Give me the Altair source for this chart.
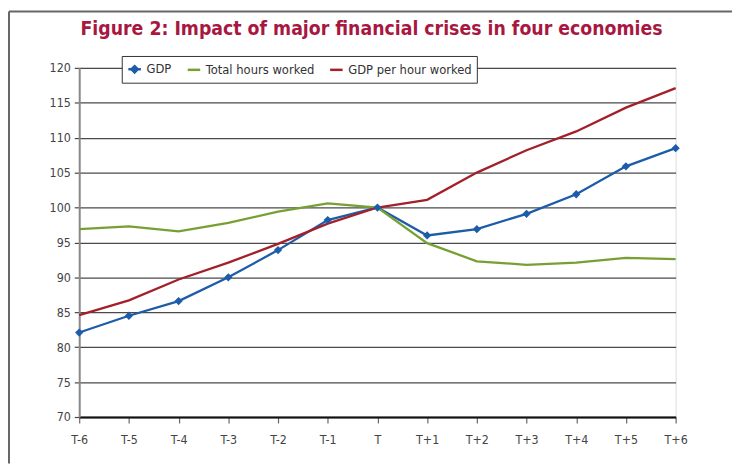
import altair as alt
import pandas as pd

periods = ["T-6", "T-5", "T-4", "T-3", "T-2", "T-1", "T", "T+1", "T+2", "T+3", "T+4", "T+5", "T+6"]
gdp = [82.1, 84.5, 86.6, 90.0, 93.9, 98.2, 100.0, 96.0, 96.9, 99.1, 101.9, 105.9, 108.5]
hours = [96.9, 97.3, 96.6, 97.8, 99.4, 100.6, 100.0, 94.9, 92.3, 91.8, 92.1, 92.8, 92.6]
gdp_per_hour = [84.6, 86.7, 89.7, 92.1, 94.8, 97.7, 100.0, 101.1, 105.0, 108.2, 110.9, 114.3, 117.1]
series = ["GDP", "Total hours worked", "GDP per hour worked"]
colors = ["#1c5ca8", "#76a132", "#a3202a"]
y_ticks = [70, 75, 80, 85, 90, 95, 100, 105, 110, 115, 120]

FONT = "DejaVu Sans Condensed, sans-serif"
GDP_SYMBOL = "M-1,0H1M0,-0.5L0.5,0L0,0.5L-0.5,0Z"

rows = []
for name, vals in zip(series, [gdp, hours, gdp_per_hour]):
    for p, v in zip(periods, vals):
        rows.append({"period": p, "value": v, "series": name})
df = pd.DataFrame(rows)

x_enc = alt.X("period:N", sort=periods, scale=alt.Scale(type="point", padding=0),
              axis=alt.Axis(title=None, labelAngle=0, domainColor="#111", domainWidth=2,
                            tickColor="#666", tickSize=6, tickWidth=1.2, labelPadding=11,
                            labelFontSize=12.5, labelFont=FONT, labelColor="#444", grid=False))
y_enc = alt.Y("value:Q", scale=alt.Scale(domain=[70, 120], nice=False, zero=False),
              axis=alt.Axis(title=None, values=y_ticks, domainColor="#888", domainWidth=2,
                            tickColor="#444", tickSize=5, tickWidth=1.2, labelPadding=4,
                            labelFontSize=12.5, labelFont=FONT, labelColor="#444",
                            labelOverlap=False,
                            grid=True, gridColor="#4a4a4a", gridWidth=1.3))

legend = alt.Legend(
    title=None, orient="none", legendX=43, legendY=-12, direction="horizontal",
    fillColor="white", strokeColor="#333", padding=5, labelFontSize=13, labelFont=FONT,
    labelColor="#333", symbolSize=160, symbolStrokeWidth=2.5, columnPadding=10,
    labelOffset=4)

color_scale = alt.Scale(domain=series, range=colors)

lines = alt.Chart(df).mark_line(strokeWidth=2.3).encode(
    x=x_enc, y=y_enc,
    color=alt.Color("series:N", sort=series, scale=color_scale, legend=legend),
)

# empty layer that only carries the legend symbols
legend_layer = alt.Chart(df[df["series"] == "__none__"]).mark_point(
    filled=True, opacity=1
).encode(
    x=x_enc, y=y_enc,
    color=alt.Color("series:N", sort=series, scale=color_scale, legend=legend),
    shape=alt.Shape("series:N", sort=series,
                    scale=alt.Scale(domain=series, range=[GDP_SYMBOL, "stroke", "stroke"]),
                    legend=legend),
)

points = alt.Chart(df[df["series"] == "GDP"]).mark_point(
    shape="diamond", filled=True, size=70, opacity=1, color=colors[0]
).encode(x=x_enc, y=y_enc)

frame_df = pd.DataFrame({"a": [0]})
left_frame = alt.Chart(frame_df).mark_rule(color="#666", strokeWidth=2).encode(
    x=alt.value(-71), y=alt.value(-57), y2=alt.value(400))
top_frame = alt.Chart(frame_df).mark_rule(color="#666", strokeWidth=2).encode(
    x=alt.value(-71), x2=alt.value(660), y=alt.value(-57))

chart = alt.layer(lines, legend_layer, points, left_frame, top_frame).properties(
    width=603, height=353,
    autosize=alt.AutoSizeParams(type="none"),
    padding={"left": 72, "top": 58, "right": 59, "bottom": 46},
    title=alt.TitleParams("Figure 2: Impact of major financial crises in four economies",
                          font=FONT, fontSize=19.5, fontWeight="bold", color="#a8173f",
                          anchor="middle", frame="group", offset=-29, dx=-6),
).configure_view(stroke=None).configure(background="white")

chart.save("out.html", embed_options={"renderer": "svg", "actions": False})
